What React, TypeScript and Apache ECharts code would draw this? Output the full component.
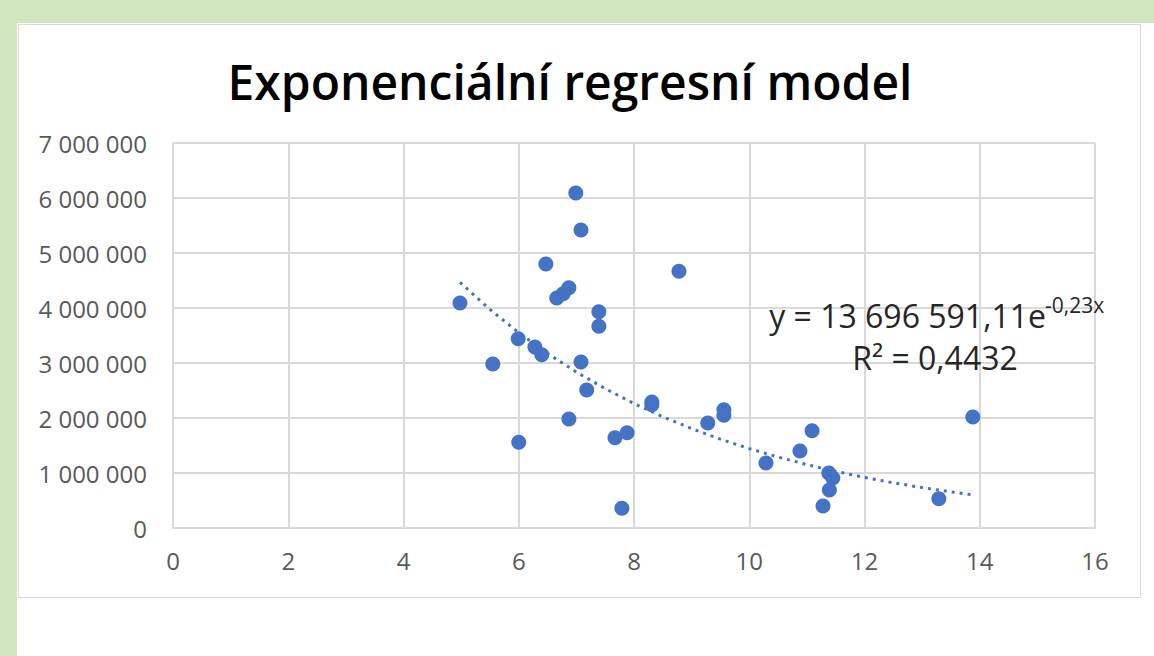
import React, { useEffect, useRef } from "react";
import * as echarts from "echarts";

const TITLE = "Exponenciální regresní model";
const X_TICKS_MAX = 16;
const Y_MAX = 7000000;

const xValues = [
  4.98, 5.55, 5.99, 6.0, 6.28, 6.4, 6.47, 6.66, 6.77, 6.87, 6.87, 6.99, 7.08,
  7.08, 7.18, 7.39, 7.39, 7.67, 7.79, 7.88, 8.31, 8.31, 8.78, 9.28, 9.56, 9.56,
  10.29, 10.88, 11.09, 11.28, 11.38, 11.45, 11.39, 13.29, 13.88,
];
const yValues = [
  4090000, 2980000, 3440000, 1560000, 3290000, 3150000, 4800000, 4180000,
  4260000, 4370000, 1980000, 6090000, 5420000, 3020000, 2510000, 3930000,
  3670000, 1640000, 360000, 1730000, 2290000, 2240000, 4670000, 1910000,
  2150000, 2050000, 1180000, 1400000, 1770000, 400000, 1000000, 910000,
  690000, 530000, 2020000,
];

// Trendline y = a * e^(b x)
const TREND_A = 13696591.11;
const TREND_B = -0.225;
const TREND_X = [
  4.98, 5.5, 6, 6.5, 7, 7.5, 8, 8.5, 9, 9.5, 10, 10.5, 11, 11.5, 12, 12.5, 13,
  13.5, 13.88,
];

const EQ_MAIN = "y = 13 696 591,11e";
const EQ_SUP = "-0,23x";
const R2_TEXT = "R² = 0,4432";

function fmt(v: number): string {
  return String(Math.round(v)).replace(/\B(?=(\d{3})+(?!\d))/g, " ");
}

export default function App() {
  const ref = useRef<HTMLDivElement>(null);
  useEffect(() => {
    if (!ref.current) return;
    const chart = echarts.init(ref.current, null, { renderer: "svg" });
    const points = xValues.map((x, i) => [x, yValues[i]]);
    const trend = TREND_X.map((x) => [x, TREND_A * Math.exp(TREND_B * x)]);
    const labelColor = "#595959";
    const font = "'Open Sans', 'Noto Sans', sans-serif";
    chart.setOption({
      animation: false,
      backgroundColor: "transparent",
      grid: { left: 173, right: 59, top: 143, bottom: 128, containLabel: false },
      xAxis: {
        type: "value",
        min: 0,
        max: X_TICKS_MAX,
        interval: 2,
        axisLine: { show: true, lineStyle: { color: "#d9d9d9", width: 2 } },
        axisTick: { show: false },
        splitLine: { show: true, lineStyle: { color: "#d9d9d9", width: 2 } },
        axisLabel: { color: labelColor, fontSize: 24, fontFamily: font, margin: 20 },
      },
      yAxis: {
        type: "value",
        min: 0,
        max: Y_MAX,
        interval: 1000000,
        axisLine: { show: false },
        axisTick: { show: false },
        splitLine: { show: true, lineStyle: { color: "#d9d9d9", width: 2 } },
        axisLabel: {
          color: labelColor,
          fontSize: 24,
          fontFamily: font,
          margin: 26,
          formatter: (v: number) => fmt(v),
        },
      },
      series: [
        {
          type: "line",
          data: trend,
          showSymbol: false,
          symbol: "none",
          smooth: false,
          lineStyle: { color: "#4472C4", width: 3, type: [3, 5], cap: "butt" },
          z: 2,
        },
        {
          type: "scatter",
          data: points,
          symbol: "circle",
          symbolSize: 15,
          itemStyle: { color: "#4472C4", opacity: 1 },
          z: 3,
        },
      ],
      graphic: [
        {
          type: "text",
          x: 570,
          y: 81,
          style: {
            text: TITLE,
            fill: "#000000",
            font: `600 48px ${font}`,
            textAlign: "center",
            textVerticalAlign: "middle",
          },
          z: 10,
        },
        {
          type: "text",
          x: 1046,
          y: 315,
          style: {
            text: EQ_MAIN,
            fill: "#262626",
            font: `32px ${font}`,
            textAlign: "right",
            textVerticalAlign: "middle",
          },
          z: 10,
        },
        {
          type: "text",
          x: 1045,
          y: 305,
          style: {
            text: EQ_SUP,
            fill: "#262626",
            font: `21px ${font}`,
            textAlign: "left",
            textVerticalAlign: "middle",
          },
          z: 10,
        },
        {
          type: "text",
          x: 935,
          y: 357,
          style: {
            text: R2_TEXT,
            fill: "#262626",
            font: `32px ${font}`,
            textAlign: "center",
            textVerticalAlign: "middle",
          },
          z: 10,
        },
      ],
    });
    return () => chart.dispose();
  }, []);

  return (
    <div
      style={{
        position: "fixed",
        left: 0,
        top: 0,
        width: 1154,
        height: 656,
        background: "#ffffff",
        overflow: "hidden",
      }}
    >
      <div style={{ position: "absolute", left: 0, top: 0, width: 1154, height: 23, background: "#D1E6BE" }} />
      <div style={{ position: "absolute", left: 0, top: 0, width: 17, height: 656, background: "#D1E6BE" }} />
      <div
        style={{
          position: "absolute",
          left: 18,
          top: 24,
          width: 1121,
          height: 572,
          border: "1px solid #d9d9d9",
          background: "#ffffff",
        }}
      />
      <div ref={ref} style={{ position: "absolute", left: 0, top: 0, width: 1154, height: 656 }} />
    </div>
  );
}
